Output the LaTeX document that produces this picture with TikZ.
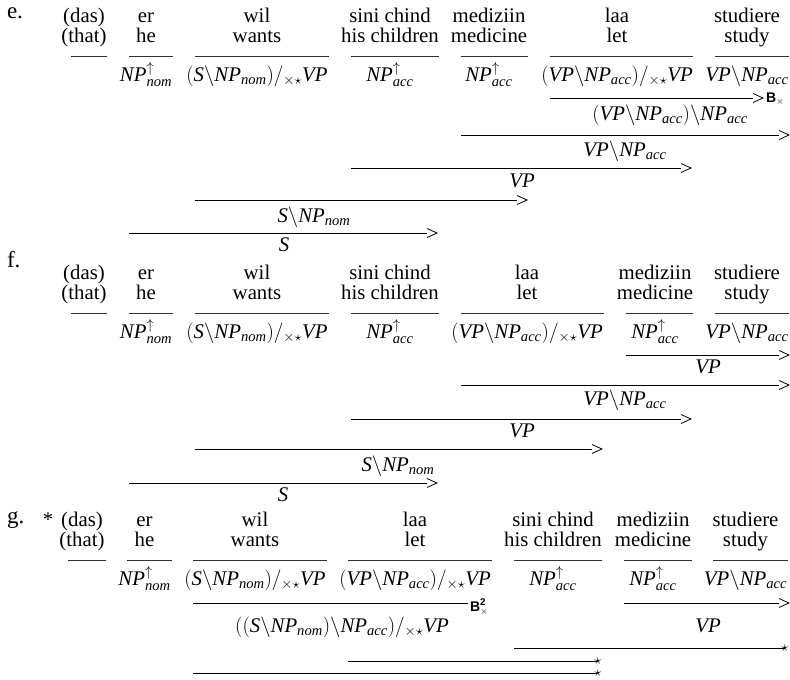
\documentclass[tikz,border=0pt]{standalone}
\usepackage{amsmath}
\usepackage{fontspec}
\setmainfont{Liberation Serif}
\setsansfont{Liberation Sans}
\newcommand\NPc{\textit{NP}}
\newcommand\VPc{\textit{VP}}
\newcommand\Sc{\textit{S}}
\newcommand\nomc{\textit{nom}}
\newcommand\accc{\textit{acc}}
\newcommand\bsl{\backslash}
\newcommand\fsl{/_{\times\star}}
\newcommand\NPnom{$\NPc^{\uparrow}_{\nomc}$}
\newcommand\NPacc{$\NPc^{\uparrow}_{\accc}$}
\newcommand\wilcat{$(\Sc\bsl\NPc_{\nomc})\fsl\VPc$}
\newcommand\laacat{$(\VPc\bsl\NPc_{\accc})\fsl\VPc$}
\newcommand\studcat{$\VPc\bsl\NPc_{\accc}$}
% word column: name, centre x, row offset, line 1, line 2, underline left, underline right
\newcommand\wcol[7]{%
  \node[wrd] (#1a) at (#2,#3+22.5) {#4};
  \node[wrd] (#1b) at (#2,#3+42.5) {#5};
  \coordinate (#1l) at (#6,#3+56);
  \coordinate (#1r) at (#7,#3+56);
  \draw[lex] (#1l) -- (#1r);}
% category: name, centre x, row offset, text
\newcommand\ccat[4]{\node[catg] (#1) at (#2,#3+81) {#4};}
% forward rule line: name, x start, x of apex, y
\newcommand\fwdline[4]{%
  \coordinate (#1s) at (#2,#4);
  \coordinate (#1e) at (#3-10,#4);
  \draw[drv] (#1s) -- (#1e);
  \pic at (#1e) {chevron};}
% starred line: name, x start, x end, y
\newcommand\starline[4]{%
  \coordinate (#1s) at (#2,#4);
  \coordinate (#1e) at (#3,#4);
  \draw[drv] (#1s) -- (#1e);
  \node[tipstar] (#1t) at (#1e) {$\star$};}
\tikzset{
  every node/.style={inner sep=0pt, outer sep=0pt},
  wrd/.style={anchor=base, font=\fontsize{20.8}{20}\selectfont},
  catg/.style={anchor=base, font=\fontsize{20.8}{20}\selectfont},
  res/.style={anchor=base, font=\fontsize{20.8}{20}\selectfont},
  exlab/.style={anchor=base west, font=\fontsize{23}{23}\selectfont},
  lex/.style={line width=0.8pt, black!80},
  drv/.style={line width=0.8pt, black},
  chevron/.pic={\draw[drv] (0,-4.5) -- (10,0) -- (0,4.5);},
  tipstar/.style={font=\fontsize{14}{14}\selectfont},
  rulelab/.style={anchor=base west, font=\fontsize{14}{14}\selectfont\sffamily\bfseries},
}
\begin{document}
\begin{tikzpicture}[x=1pt,y=-1pt]
\useasboundingbox (0,0) rectangle (790,680);

% ---------------- e ----------------
\node[exlab] (elab) at (7,18.5) {e.};
\wcol{ed}{84}{0}{(das)}{(that)}{71}{107}
\wcol{ee}{146}{0}{er}{he}{129}{173}
\wcol{ew}{257}{0}{wil}{wants}{195}{329}
\wcol{es}{390}{0}{sini chind}{his children}{351}{439}
\wcol{em}{489}{0}{mediziin}{medicine}{461}{528}
\wcol{el}{617}{0}{laa}{let}{550}{693}
\wcol{et}{747}{0}{studiere}{study}{715}{789}
\ccat{ecE}{146}{0}{\NPnom}
\ccat{ecW}{257}{0}{\wilcat}
\ccat{ecS}{390}{0}{\NPacc}
\ccat{ecM}{489}{0}{\NPacc}
\ccat{ecL}{617}{0}{\laacat}
\ccat{ecT}{747}{0}{\studcat}

\fwdline{eD1}{550}{763}{98}
\node[rulelab] (eB) at (766,102.5) {B$_{\times}$};
\node[res] (eR1) at (670,120.5) {$(\VPc\bsl\NPc_{\accc})\bsl\NPc_{\accc}$};
\fwdline{eD2}{461}{789}{135}
\node[res] (eR2) at (625,156.5) {\studcat};
\fwdline{eD3}{351}{691}{168}
\node[res] (eR3) at (522,187) {$\VPc$};
\fwdline{eD4}{195}{527}{200}
\node[res] (eR4) at (314,222) {$\Sc\bsl\NPc_{\nomc}$};
\fwdline{eD5}{129}{437}{233}
\node[res] (eR5) at (284,251) {$\Sc$};

% ---------------- f ----------------
\node[exlab] (flab) at (7,267) {f.};
\wcol{fd}{84}{257}{(das)}{(that)}{71}{107}
\wcol{fe}{146}{257}{er}{he}{129}{173}
\wcol{fw}{257}{257}{wil}{wants}{195}{329}
\wcol{fs}{390}{257}{sini chind}{his children}{351}{439}
\wcol{fl}{527}{257}{laa}{let}{461}{604}
\wcol{fm}{655}{257}{mediziin}{medicine}{626}{693}
\wcol{ft}{747}{257}{studiere}{study}{715}{789}
\ccat{fcE}{146}{257}{\NPnom}
\ccat{fcW}{257}{257}{\wilcat}
\ccat{fcS}{390}{257}{\NPacc}
\ccat{fcL}{527}{257}{\laacat}
\ccat{fcM}{655}{257}{\NPacc}
\ccat{fcT}{747}{257}{\studcat}

\fwdline{fD1}{626}{789}{355}
\node[res] (fR1) at (708,373) {$\VPc$};
\fwdline{fD2}{461}{789}{385}
\node[res] (fR2) at (625,405) {\studcat};
\fwdline{fD3}{351}{691}{419}
\node[res] (fR3) at (522,437) {$\VPc$};
\fwdline{fD4}{195}{602}{449}
\node[res] (fR4) at (398,471) {$\Sc\bsl\NPc_{\nomc}$};
\fwdline{fD5}{129}{437}{483}
\node[res] (fR5) at (283,501) {$\Sc$};

% ---------------- g ----------------
\node[exlab] (glab) at (7,523) {g.};
\node[wrd] (gast) at (48,526.5) {*};
\wcol{gd}{82}{504}{(das)}{(that)}{68}{106}
\wcol{ge}{144.5}{504}{er}{he}{127}{172}
\wcol{gw}{255}{504}{wil}{wants}{193}{327}
\wcol{gl}{415}{504}{laa}{let}{348}{492}
\wcol{gs}{553}{504}{sini chind}{his children}{514}{602}
\wcol{gm}{653}{504}{mediziin}{medicine}{624}{692}
\wcol{gt}{745.5}{504}{studiere}{study}{713}{788}
\ccat{gcE}{144.5}{504}{\NPnom}
\ccat{gcW}{255}{504}{\wilcat}
\ccat{gcL}{415}{504}{\laacat}
\ccat{gcS}{553}{504}{\NPacc}
\ccat{gcM}{653}{504}{\NPacc}
\ccat{gcT}{745.5}{504}{\studcat}

\coordinate (gD1s) at (193,603);
\coordinate (gD1e) at (468,603);
\draw[drv] (gD1s) -- (gD1e);
\node[rulelab] (gB) at (470,611) {B$^{\textsf{\bfseries 2}}_{\times}$};
\node[res] (gR1) at (342,632) {$((\Sc\bsl\NPc_{\nomc})\bsl\NPc_{\accc})\fsl\VPc$};
\fwdline{gD2}{624}{789}{603}
\node[res] (gR2) at (708,632) {$\VPc$};
\starline{gS1}{514}{785}{648}
\starline{gS2}{348}{598}{661}
\starline{gS3}{193}{598}{673}
\end{tikzpicture}
\end{document}
